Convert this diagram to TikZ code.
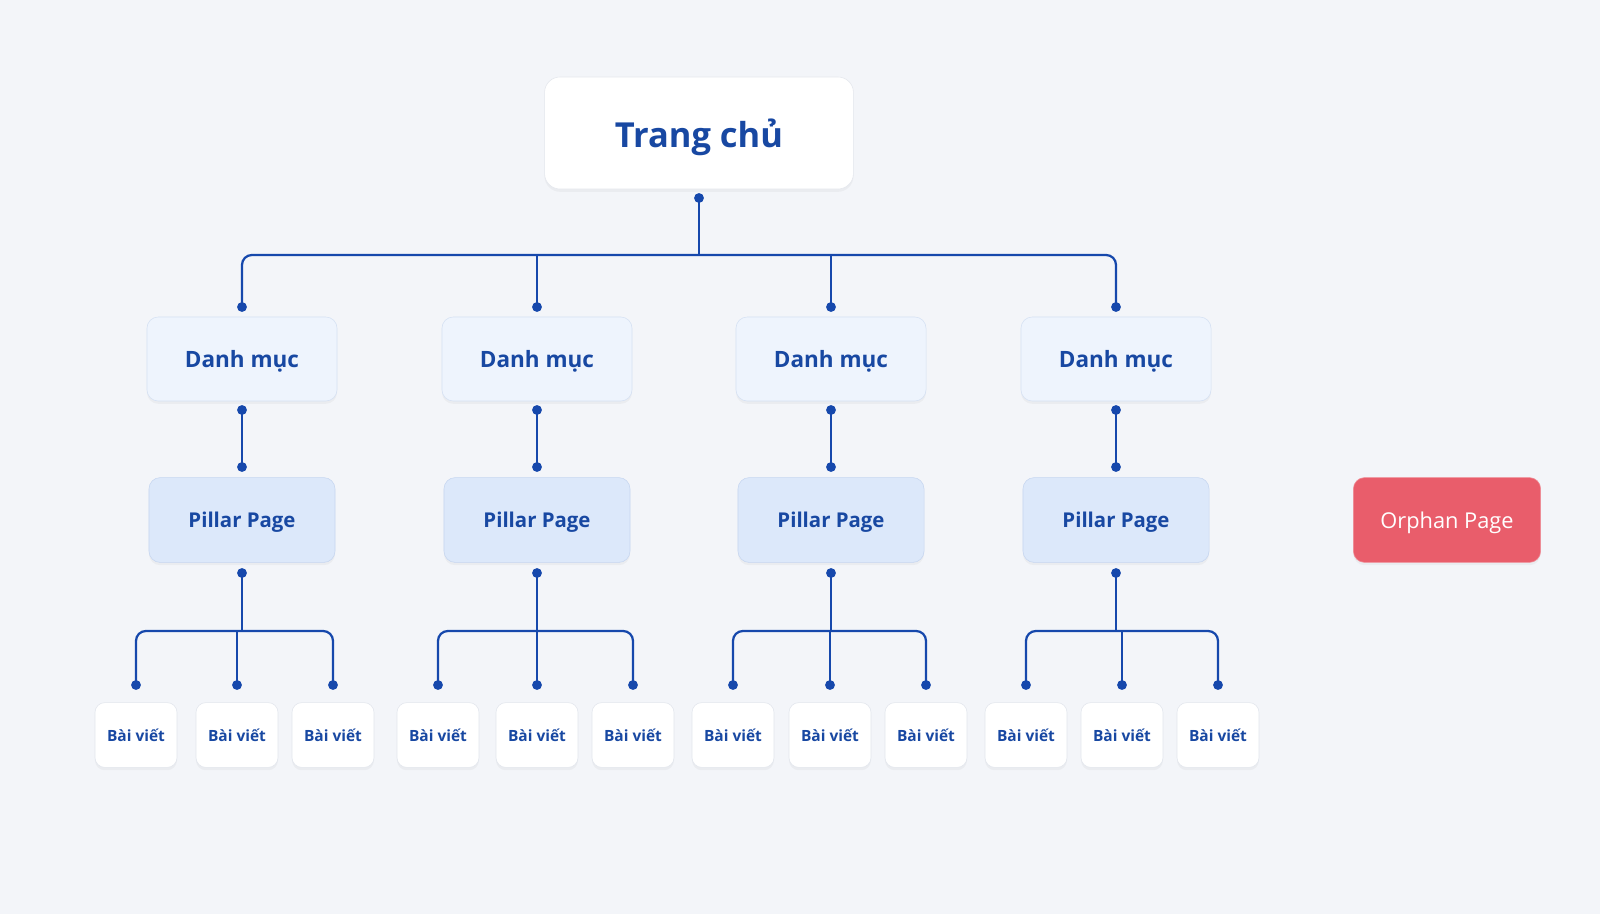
\documentclass[tikz,border=0pt]{standalone}
\usepackage{fontspec}
\setmainfont{Open Sans}
\usetikzlibrary{shadows}
\definecolor{pagebg}{RGB}{243,245,249}
\definecolor{linkblue}{RGB}{22,72,172}
\definecolor{textblue}{RGB}{24,72,162}
\definecolor{homeline}{RGB}{228,231,237}
\definecolor{catfill}{RGB}{238,244,253}
\definecolor{catline}{RGB}{213,225,243}
\definecolor{pillarfill}{RGB}{220,232,250}
\definecolor{pillarline}{RGB}{198,214,240}
\definecolor{postline}{RGB}{226,230,237}
\definecolor{orphanred}{RGB}{233,93,107}
\definecolor{orphanline}{RGB}{240,140,150}

\tikzset{
  card/.style={rounded corners=8pt, inner sep=0pt, text=textblue, text depth=0pt,
    drop shadow={opacity=0.07, shadow xshift=0pt, shadow yshift=-2pt}},
  homebox/.style={card, fill=white, draw=homeline, rounded corners=11pt,
    minimum width=7.72cm, minimum height=2.8cm,
    font=\bfseries\fontsize{24.5}{29}\selectfont},
  catbox/.style={card, fill=catfill, draw=catline,
    minimum width=4.75cm, minimum height=2.1cm,
    font=\bfseries\fontsize{16}{19}\selectfont},
  pillarbox/.style={card, fill=pillarfill, draw=pillarline,
    minimum width=4.65cm, minimum height=2.12cm,
    font=\bfseries\fontsize{14.5}{17}\selectfont},
  postbox/.style={card, fill=white, draw=postline, rounded corners=7pt,
    minimum width=2.05cm, minimum height=1.62cm,
    font=\bfseries\fontsize{11}{13}\selectfont},
  orphanbox/.style={card, fill=orphanred, draw=orphanline, text=white,
    minimum width=4.68cm, minimum height=2.12cm,
    font=\fontsize{15.5}{18}\selectfont},
  dot/.style={circle, fill=linkblue, inner sep=0pt, minimum size=7pt},
  link/.style={draw=linkblue, line width=1.6pt}
}

\begin{document}
\begin{tikzpicture}[x=0.025cm, y=-0.025cm]
  \fill[pagebg] (0,0) rectangle (1600,914);
  \useasboundingbox (0,0) rectangle (1600,914);
  % home
  \node[homebox] (home) at (699,133) {Trang chủ};
  \node[dot] (home-out) at (699,198) {};
  \coordinate (hub) at (699,255);
  % columns
  \foreach \x/\n/\pa/\pb/\pc in {242/1/136/237/333, 537/2/438/537/633,
                                 831/3/733/830/926, 1116/4/1026/1122/1218} {
    \node[dot] (cat-in\n) at (\x,307) {};
    \node[catbox] (cat\n) at (\x,359) {Danh mục};
    \node[dot] (cat-out\n) at (\x,410) {};
    \node[dot] (pil-in\n) at (\x,467) {};
    \node[pillarbox] (pil\n) at (\x,520) {Pillar Page};
    \node[dot] (pil-out\n) at (\x,573) {};
    \coordinate (fork\n) at (\x,631);
    \foreach \px/\m in {\pa/a,\pb/b,\pc/c} {
      \node[dot] (post-in-\n-\m) at (\px,685) {};
      \node[postbox] (post-\n-\m) at (\px,735) {Bài viết};
    }
    \draw[link] (cat-out\n.center) -- (pil-in\n.center);
    \draw[link] (pil-out\n.center) -- (fork\n);
    \draw[link] (post-in-\n-b.center) -- (post-in-\n-b |- fork\n);
    \draw[link, rounded corners=7pt] (post-in-\n-a.center) |- (fork\n) -| (post-in-\n-c.center);
  }
  % top bar
  \draw[link] (home-out.center) -- (hub);
  \draw[link, rounded corners=7pt] (cat-in1.center) |- (hub) -| (cat-in4.center);
  \foreach \n in {2,3} {
    \draw[link] (cat-in\n.center) -- (cat-in\n |- hub);
  }
  % orphan
  \node[orphanbox] (orphan) at (1447,520) {Orphan Page};
\end{tikzpicture}
\end{document}
